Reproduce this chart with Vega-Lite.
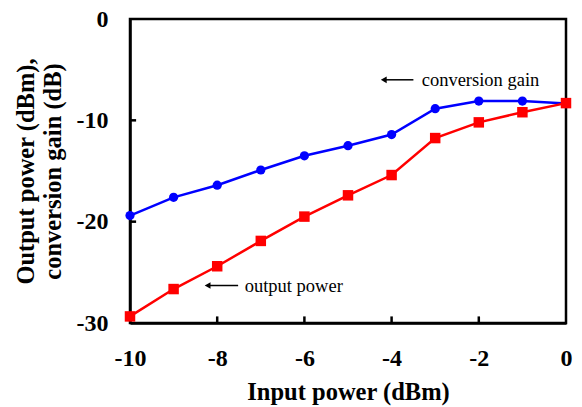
{
  "$schema": "https://vega.github.io/schema/vega-lite/v6.json",
  "width": 436,
  "height": 304,
  "autosize": {"type": "none"},
  "padding": {"left": 130, "top": 19, "right": 16, "bottom": 84},
  "background": "white",
  "config": {
    "view": {"stroke": "black", "strokeWidth": 2.5},
    "font": "Liberation Serif",
    "axis": {
      "grid": false,
      "domainColor": "black",
      "domainWidth": 2.5,
      "tickColor": "black",
      "tickWidth": 2.5,
      "labelFlush": false,
      "labelFont": "Liberation Serif",
      "labelFontWeight": "bold",
      "labelFontSize": 24,
      "labelColor": "black",
      "titleFont": "Liberation Serif",
      "titleFontWeight": "bold",
      "titleFontSize": 24.5,
      "titleColor": "black"
    }
  },
  "datasets": {
    "series": [
      {"x": -10, "value": -19.4, "series": "conversion gain"},
      {"x": -9, "value": -17.6, "series": "conversion gain"},
      {"x": -8, "value": -16.4, "series": "conversion gain"},
      {"x": -7, "value": -14.9, "series": "conversion gain"},
      {"x": -6, "value": -13.5, "series": "conversion gain"},
      {"x": -5, "value": -12.5, "series": "conversion gain"},
      {"x": -4, "value": -11.4, "series": "conversion gain"},
      {"x": -3, "value": -8.85, "series": "conversion gain"},
      {"x": -2, "value": -8.1, "series": "conversion gain"},
      {"x": -1, "value": -8.1, "series": "conversion gain"},
      {"x": 0, "value": -8.35, "series": "conversion gain"},
      {"x": -10, "value": -29.35, "series": "output power"},
      {"x": -9, "value": -26.65, "series": "output power"},
      {"x": -8, "value": -24.4, "series": "output power"},
      {"x": -7, "value": -21.9, "series": "output power"},
      {"x": -6, "value": -19.5, "series": "output power"},
      {"x": -5, "value": -17.4, "series": "output power"},
      {"x": -4, "value": -15.4, "series": "output power"},
      {"x": -3, "value": -11.75, "series": "output power"},
      {"x": -2, "value": -10.2, "series": "output power"},
      {"x": -1, "value": -9.2, "series": "output power"},
      {"x": 0, "value": -8.3, "series": "output power"}
    ],
    "notes": [
      {"label": "conversion gain", "xs": -4.18, "xe": -3.5, "xt": -3.31, "y": -6.0},
      {"label": "output power", "xs": -8.22, "xe": -7.52, "xt": -7.37, "y": -26.3}
    ],
    "xticks": [
      {"x": -8, "y": -30, "y2": -29.35},
      {"x": -6, "y": -30, "y2": -29.35},
      {"x": -4, "y": -30, "y2": -29.35},
      {"x": -2, "y": -30, "y2": -29.35}
    ],
    "yticks": [
      {"y": -20, "x": -10, "x2": -9.86},
      {"y": -10, "x": -10, "x2": -9.86}
    ]
  },
  "layer": [
    {
      "data": {"name": "series"},
      "mark": {"type": "line", "strokeWidth": 2.5},
      "encoding": {
        "x": {"field": "x", "type": "quantitative", "scale": {"domain": [-10, 0], "nice": false},
          "axis": {"values": [-10, -8, -6, -4, -2, 0], "ticks": false, "labelExpr": "toString(datum.value)", "title": "Input power (dBm)", "labelPadding": 23, "titlePadding": 10}},
        "y": {"field": "value", "type": "quantitative", "scale": {"domain": [-30, 0], "nice": false},
          "axis": {"values": [-30, -20, -10, 0], "ticks": false, "labelExpr": "toString(datum.value)", "title": ["Output power (dBm),", "conversion gain (dB)"], "titleLineHeight": 27, "labelPadding": 22, "titlePadding": 11}},
        "color": {"field": "series", "type": "nominal", "scale": {"domain": ["conversion gain", "output power"], "range": ["#0000FF", "#FF0000"]}, "legend": null}
      }
    },
    {
      "data": {"name": "xticks"},
      "mark": {"type": "rule", "color": "black", "strokeWidth": 2.5},
      "encoding": {
        "x": {"field": "x", "type": "quantitative"},
        "y": {"field": "y", "type": "quantitative"},
        "y2": {"field": "y2"}
      }
    },
    {
      "data": {"name": "yticks"},
      "mark": {"type": "rule", "color": "black", "strokeWidth": 2.5},
      "encoding": {
        "x": {"field": "x", "type": "quantitative"},
        "x2": {"field": "x2"},
        "y": {"field": "y", "type": "quantitative"}
      }
    },
    {
      "data": {"name": "series"},
      "mark": {"type": "point", "filled": true, "opacity": 1},
      "encoding": {
        "x": {"field": "x", "type": "quantitative"},
        "y": {"field": "value", "type": "quantitative"},
        "color": {"field": "series", "type": "nominal", "legend": null},
        "shape": {"field": "series", "type": "nominal", "scale": {"domain": ["conversion gain", "output power"], "range": ["circle", "square"]}, "legend": null},
        "size": {"field": "series", "type": "nominal", "scale": {"domain": ["conversion gain", "output power"], "range": [85, 110]}, "legend": null}
      }
    },
    {
      "data": {"name": "notes"},
      "mark": {"type": "rule", "color": "black", "strokeWidth": 1.5},
      "encoding": {
        "x": {"field": "xs", "type": "quantitative"},
        "x2": {"field": "xe"},
        "y": {"field": "y", "type": "quantitative"}
      }
    },
    {
      "data": {"name": "notes"},
      "mark": {"type": "point", "shape": "triangle-left", "filled": true, "color": "black", "opacity": 1, "size": 45},
      "encoding": {
        "x": {"field": "xs", "type": "quantitative"},
        "y": {"field": "y", "type": "quantitative"}
      }
    },
    {
      "data": {"name": "notes"},
      "mark": {"type": "text", "align": "left", "baseline": "middle", "font": "Liberation Serif", "fontSize": 18.5, "color": "black"},
      "encoding": {
        "x": {"field": "xt", "type": "quantitative"},
        "y": {"field": "y", "type": "quantitative"},
        "text": {"field": "label"}
      }
    }
  ]
}
